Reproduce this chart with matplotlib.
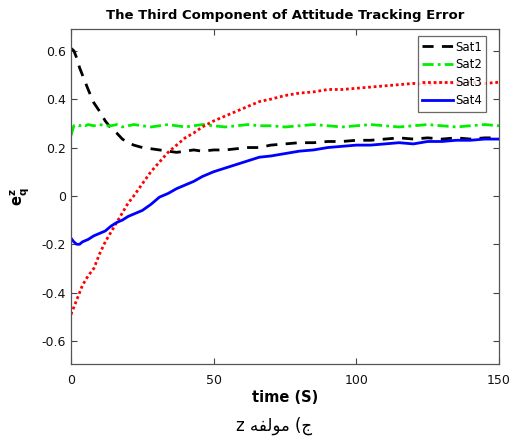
import matplotlib
matplotlib.use("Agg")
import matplotlib.pyplot as plt

# ---- data ----
t = [0, 1, 2, 3, 4, 5, 6, 8, 10, 12, 14, 16, 18, 20, 22, 25, 28, 31, 34, 37, 40,
     43, 46, 50, 54, 58, 62, 66, 70, 75, 80, 85, 90, 95, 100, 105, 110, 115,
     120, 125, 130, 135, 140, 145, 150]

sat1 = [0.61, 0.60, 0.57, 0.53, 0.50, 0.47, 0.44, 0.385, 0.35, 0.31, 0.28, 0.26,
        0.235, 0.22, 0.21, 0.20, 0.195, 0.19, 0.185, 0.18, 0.185, 0.19, 0.185,
        0.19, 0.19, 0.195, 0.20, 0.20, 0.21, 0.215, 0.22, 0.22, 0.225, 0.225,
        0.23, 0.23, 0.235, 0.24, 0.235, 0.24, 0.235, 0.24, 0.235, 0.24, 0.24]

sat2 = [0.25, 0.29, 0.295, 0.29, 0.295, 0.29, 0.295, 0.29, 0.295, 0.29, 0.29,
        0.295, 0.285, 0.29, 0.295, 0.29, 0.285, 0.29, 0.295, 0.29, 0.285, 0.29,
        0.295, 0.29, 0.285, 0.29, 0.295, 0.29, 0.29, 0.285, 0.29, 0.295, 0.29,
        0.285, 0.29, 0.295, 0.29, 0.285, 0.29, 0.295, 0.29, 0.285, 0.29, 0.295,
        0.29]

sat3 = [-0.49, -0.46, -0.43, -0.40, -0.37, -0.35, -0.33, -0.30, -0.24, -0.19,
        -0.15, -0.11, -0.07, -0.03, 0.0, 0.05, 0.10, 0.14, 0.18, 0.21, 0.24,
        0.26, 0.285, 0.31, 0.33, 0.35, 0.37, 0.39, 0.40, 0.415, 0.425, 0.43,
        0.44, 0.44, 0.445, 0.45, 0.455, 0.46, 0.465, 0.46, 0.47, 0.465, 0.47,
        0.465, 0.47]

sat4 = [-0.175, -0.19, -0.20, -0.20, -0.19, -0.185, -0.18, -0.165, -0.155,
        -0.145, -0.125, -0.11, -0.10, -0.085, -0.075, -0.06, -0.035, -0.005,
        0.01, 0.03, 0.045, 0.06, 0.08, 0.10, 0.115, 0.13, 0.145, 0.16, 0.165,
        0.175, 0.185, 0.19, 0.20, 0.205, 0.21, 0.21, 0.215, 0.22, 0.215, 0.225,
        0.225, 0.23, 0.23, 0.235, 0.235]

labels = ["Sat1", "Sat2", "Sat3", "Sat4"]
xticks = [0, 50, 100, 150]
yticks = [-0.6, -0.4, -0.2, 0, 0.2, 0.4, 0.6]
ytick_labels = ["-0.6", "-0.4", "-0.2", "0", "0.2", "0.4", "0.6"]

title = "The Third Component of Attitude Tracking Error"
xlabel = "time (S)"
ylabel = r"$\mathbf{e_q^z}$"
# caption "ج) مولفه z" written in visual (left-to-right, shaped) order
caption = "z \ufeea\ufed4\ufedf\ufeee\ufee3 (\ufe9d"

# ---- figure ----
fig = plt.figure(figsize=(5.12, 4.41), dpi=100)
ax = fig.add_axes([0.1387, 0.1746, 0.8359, 0.7596])

ax.plot(t, sat1, color="black", linestyle=(0, (4, 3)), linewidth=2, label=labels[0])
ax.plot(t, sat2, color="#00ee00", linestyle=(0, (4, 1.5, 1, 1.5)), linewidth=2, label=labels[1])
ax.plot(t, sat3, color="red", linestyle=(0, (1, 1)), linewidth=2, label=labels[2])
ax.plot(t, sat4, color="blue", linestyle="-", linewidth=2, label=labels[3])

ax.set_xlim(0, 150)
ax.set_ylim(-0.695, 0.69)
ax.set_xticks(xticks)
ax.set_xticklabels([str(v) for v in xticks])
ax.set_yticks(yticks)
ax.set_yticklabels(ytick_labels)
ax.tick_params(direction="in", length=4, top=True, right=True, labelsize=9,
               width=0.8, color="#444444", labelcolor="#111111")
ax.tick_params(axis="x", pad=7)
for s in ax.spines.values():
    s.set_color("#555555")
    s.set_linewidth(0.9)

ax.set_title(title, fontsize=9.5, fontweight="bold", pad=7)
ax.set_xlabel(xlabel, fontsize=10.5, fontweight="bold", labelpad=2)
ax.set_ylabel(ylabel, fontsize=10.5, labelpad=8)

leg = ax.legend(loc="upper right", fontsize=8.5, handlelength=2.6, handletextpad=0.2,
                borderpad=0.35, labelspacing=0.42, fancybox=False,
                bbox_to_anchor=(0.975, 0.985), borderaxespad=0.2)
leg.get_frame().set_edgecolor("#444444")
leg.get_frame().set_linewidth(0.9)

fig.text(0.535, 0.035, caption, ha="center", va="center", fontsize=12,
         family=["DejaVu Sans"])

fig.savefig("out.png", dpi=100)
